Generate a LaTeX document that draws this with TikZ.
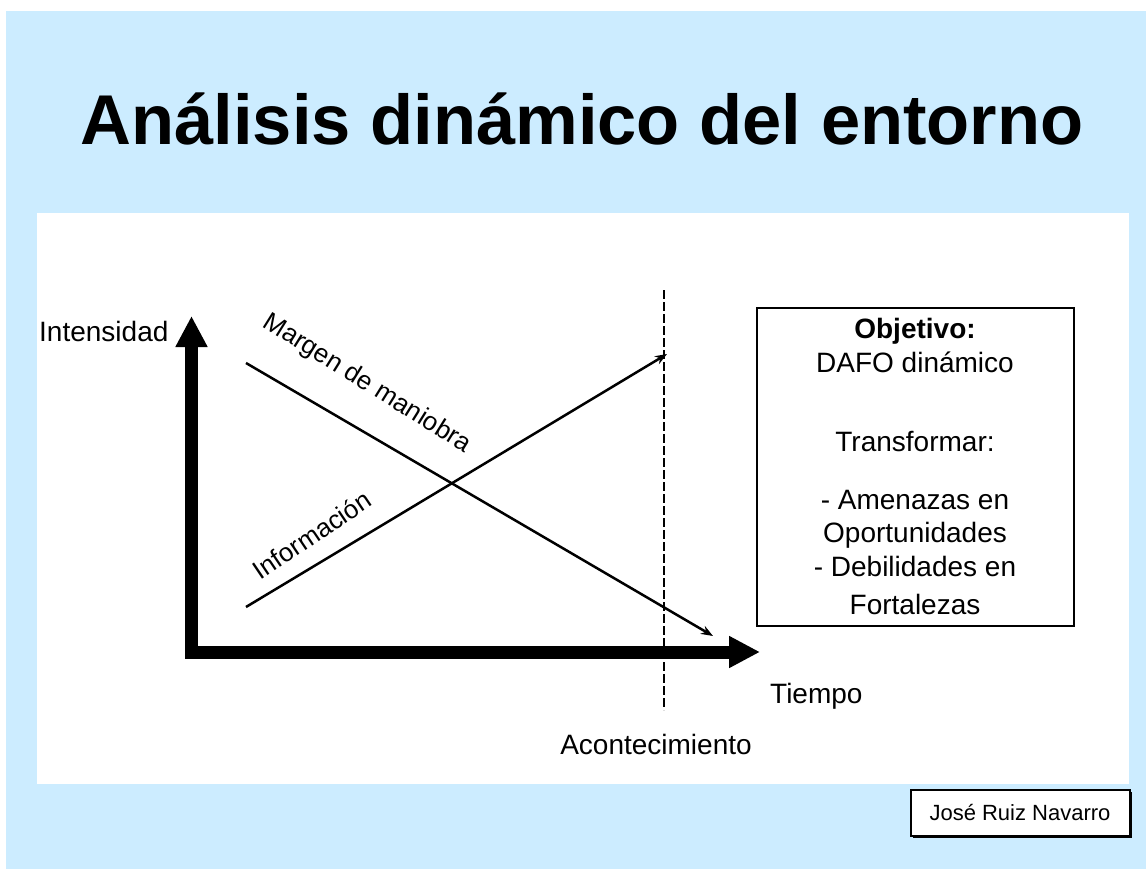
\documentclass[tikz,border=0pt]{standalone}
\usepackage{fontspec}
\setmainfont{Liberation Sans}
\usetikzlibrary{arrows.meta}
\definecolor{bgblue}{RGB}{204,236,255}
\tikzset{
  lbl/.style={inner sep=0pt, font=\fontsize{28}{31}\selectfont},
  small/.style={inner sep=0pt, font=\fontsize{26}{29}\selectfont},
  axis/.style={line width=13pt, line join=miter, {Triangle[length=31pt,width=30pt]}-{Triangle[length=31pt,width=30pt]}},
  trend/.style={line width=2.5pt, -{Stealth[length=12pt,width=9pt]}},
  event/.style={line width=1.5pt, dash pattern=on 9pt off 3pt},
}
\begin{document}
\begin{tikzpicture}[x=1pt,y=-1pt]
\useasboundingbox (0,0) rectangle (1146,869);
\fill[white] (0,0) rectangle (1146,869);
\fill[bgblue] (6,11) rectangle (1146,869);
\fill[white] (37,213) rectangle (1129,784);

% title
\node[inner sep=0pt, anchor=base, font=\fontsize{70.5}{80}\selectfont\bfseries] (title) at (582,145) {Análisis dinámico del entorno};

% axes
\coordinate (ytop) at (191.5,316);
\coordinate (orig) at (191.5,652);
\coordinate (xend) at (760,652);
\draw[axis] (ytop) -- (orig) -- (xend);

% event line
\coordinate (evtop) at (664,290);
\coordinate (evbot) at (664,710);
\draw[event] (evtop) -- (evbot);

% trend lines
\coordinate (m1) at (246,363);
\coordinate (m2) at (713,636);
\coordinate (i1) at (246,607);
\coordinate (i2) at (667,354);
\draw[trend] (m1) -- (m2);
\draw[trend] (i1) -- (i2);

\node[small, rotate=-32] (margen) at (367,384) {Margen de maniobra};
\node[small, rotate=34] (info) at (312,535) {Información};

% axis labels
\node[lbl, anchor=base west] (intens) at (39,341) {Intensidad};
\node[lbl, anchor=base west] (tiempo) at (770,703) {Tiempo};
\node[lbl, anchor=base] (acont) at (656,754) {Acontecimiento};

% objective box
\draw[line width=2pt] (757,308) rectangle (1074,626);
\node[lbl, anchor=base, font=\fontsize{28}{31}\selectfont\bfseries] (obj) at (915,338) {Objetivo:};
\node[lbl, anchor=base] (dafo) at (915,372) {DAFO dinámico};
\node[lbl, anchor=base] (transf) at (915,451) {Transformar:};
\node[lbl, anchor=base] (amen) at (915,509) {- Amenazas en};
\node[lbl, anchor=base] (oport) at (915,542) {Oportunidades};
\node[lbl, anchor=base] (debil) at (915,576) {- Debilidades en};
\node[lbl, anchor=base] (fort) at (915,614) {Fortalezas};

% footer
\fill[black] (913,792) rectangle (1132,838);
\draw[line width=1.5pt, fill=white] (911,790) rectangle (1130,836);
\node[inner sep=0pt, font=\fontsize{22}{25}\selectfont] (author) at (1020,813) {José Ruiz Navarro};
\end{tikzpicture}
\end{document}
